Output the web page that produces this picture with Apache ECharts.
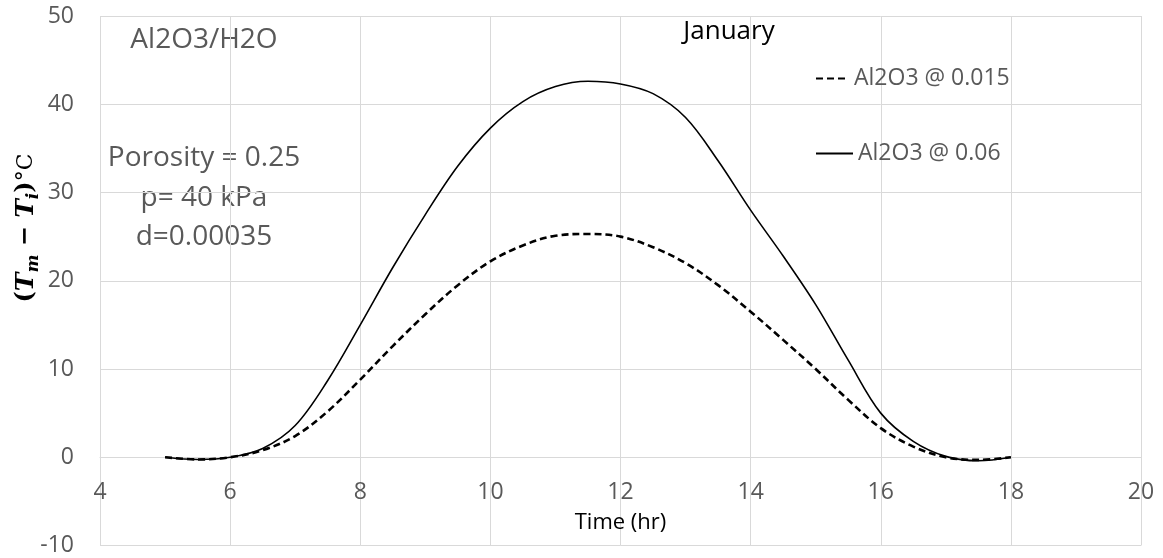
<!DOCTYPE html>
<html>
<head>
<meta charset="utf-8">
<script src="https://cdn.jsdelivr.net/npm/echarts@6/dist/echarts.min.js"></script>
<style>
  html, body { margin: 0; padding: 0; background: #fff; }
  #chart { width: 1163px; height: 558px; }
</style>
</head>
<body>
<div id="chart"></div>
<script>
// Time of day (hr)
const hours = [5, 5.5, 6, 6.5, 7, 7.5, 8, 8.5, 9, 9.5, 10, 10.5, 11, 11.5, 12,
               12.5, 13, 13.5, 14, 14.5, 15, 15.5, 16, 16.5, 17, 17.5, 18];
// Temperature rise (Tm - Ti) for each volume fraction
const al2o3_0015 = [0, -0.25, 0, 0.8, 2.4, 5.2, 8.8, 12.6, 16.2, 19.5, 22.2, 24, 25.1, 25.3, 25,
                    23.8, 22, 19.5, 16.5, 13.3, 10, 6.5, 3.3, 1.2, 0, -0.3, 0];
const al2o3_006 = [0, -0.25, 0, 1.0, 3.6, 8.7, 15, 21.5, 27.5, 33, 37.3, 40.3, 42, 42.6, 42.3,
                   41.2, 38.5, 33.6, 28, 22.8, 17.3, 11, 5, 1.8, 0.1, -0.4, 0];
const seriesNames = ['Al2O3 @ 0.015', 'Al2O3 @ 0.06'];
const xTicks = { min: 4, max: 20, step: 2 };
const yTicks = { min: -10, max: 50, step: 10 };
const notes = ['Al2O3/H2O', 'Porosity = 0.25', 'p= 40 kPa', 'd=0.00035'];

const pairs = (xs, ys) => xs.map((x, i) => [x, ys[i]]);

const gridColor = '#d9d9d9';
const labelColor = '#595959';
const fontFam = '"Open Sans", sans-serif';
const mathFam = '"DejaVu Serif", serif';

const gridTop = 16, gridBottom = 12.5, chartH = 558;
// shift the time axis up so it runs along the zero line
const plotH = chartH - gridTop - gridBottom;
const zeroShift = plotH * (0 - yTicks.min) / (yTicks.max - yTicks.min);

const chart = echarts.init(document.getElementById('chart'));
chart.setOption({
  animation: false,
  backgroundColor: '#fff',
  grid: { left: 100, right: 22, top: gridTop, bottom: gridBottom, containLabel: false, outerBoundsMode: 'none' },
  xAxis: {
    type: 'value',
    position: 'bottom',
    offset: -zeroShift,
    min: xTicks.min, max: xTicks.max, interval: xTicks.step,
    name: 'Time (hr)',
    nameLocation: 'middle',
    nameGap: 54,
    nameTextStyle: { color: '#000', fontSize: 22, fontFamily: fontFam },
    axisLine: { onZero: false, lineStyle: { color: gridColor, width: 1 } },
    axisTick: { show: false },
    axisLabel: { color: labelColor, fontSize: 23, fontFamily: fontFam, margin: 24 },
    splitLine: { show: true, lineStyle: { color: gridColor, width: 1 } }
  },
  yAxis: {
    type: 'value',
    min: yTicks.min, max: yTicks.max, interval: yTicks.step,
    axisLine: { show: false },
    axisTick: { show: false },
    axisLabel: { color: labelColor, fontSize: 23, fontFamily: fontFam, margin: 26 },
    splitLine: { show: true, lineStyle: { color: gridColor, width: 1 } }
  },
  legend: [
    {
      data: [seriesNames[0]], left: 810, top: 62, orient: 'vertical',
      itemWidth: 33, itemHeight: 12, itemGap: 6,
      itemStyle: { opacity: 0 },
      textStyle: { color: labelColor, fontSize: 23, fontFamily: fontFam }
    },
    {
      data: [seriesNames[1]], left: 810, top: 137, orient: 'vertical',
      itemWidth: 37, itemHeight: 12, itemGap: 2,
      itemStyle: { opacity: 0 },
      textStyle: { color: labelColor, fontSize: 23, fontFamily: fontFam }
    }
  ],
  graphic: [
    {
      type: 'text', x: 729, y: 32,
      style: { text: 'January', fill: '#000', font: '26px ' + fontFam, align: 'center', verticalAlign: 'middle' }
    },
    {
      type: 'text', x: 204, y: 40,
      style: { text: notes[0], fill: labelColor, font: '28px ' + fontFam, align: 'center', verticalAlign: 'middle' }
    },
    {
      type: 'text', x: 204, y: 158,
      style: { text: notes[1], fill: labelColor, font: '28px ' + fontFam, align: 'center', verticalAlign: 'middle' }
    },
    {
      type: 'text', x: 204, y: 198,
      style: { text: notes[2], fill: labelColor, font: '28px ' + fontFam, align: 'center', verticalAlign: 'middle' }
    },
    {
      type: 'text', x: 204, y: 237,
      style: { text: notes[3], fill: labelColor, font: '28px ' + fontFam, align: 'center', verticalAlign: 'middle' }
    },
    {
      // y-axis title: (Tm − Ti)°C
      type: 'text', x: 26, y: 228, rotation: Math.PI / 2,
      style: {
        text: '{p|(}{t|T}{s|m}{p| − }{t|T}{s|i}{p|)}{c|°C}',
        align: 'center', verticalAlign: 'middle', fill: '#000',
        rich: {
          p: { fontFamily: mathFam, fontWeight: 'bold', fontSize: 24, lineHeight: 32, fill: '#000' },
          t: { fontFamily: mathFam, fontWeight: 'bold', fontStyle: 'italic', fontSize: 25, lineHeight: 32, fill: '#000' },
          s: { fontFamily: mathFam, fontWeight: 'bold', fontStyle: 'italic', fontSize: 17, lineHeight: 17, verticalAlign: 'bottom', fill: '#000' },
          c: { fontFamily: mathFam, fontSize: 22, lineHeight: 32, fill: '#000' }
        }
      }
    }
  ],
  series: [
    {
      name: seriesNames[0], type: 'line', data: pairs(hours, al2o3_0015),
      smooth: 0.35, showSymbol: false, symbol: 'none',
      lineStyle: { color: '#000', width: 2.6, type: [7, 4] },
      itemStyle: { color: '#000' }
    },
    {
      name: seriesNames[1], type: 'line', data: pairs(hours, al2o3_006),
      smooth: 0.35, showSymbol: false, symbol: 'none',
      lineStyle: { color: '#000', width: 1.6 },
      itemStyle: { color: '#000' }
    }
  ]
});
</script>
</body>
</html>
